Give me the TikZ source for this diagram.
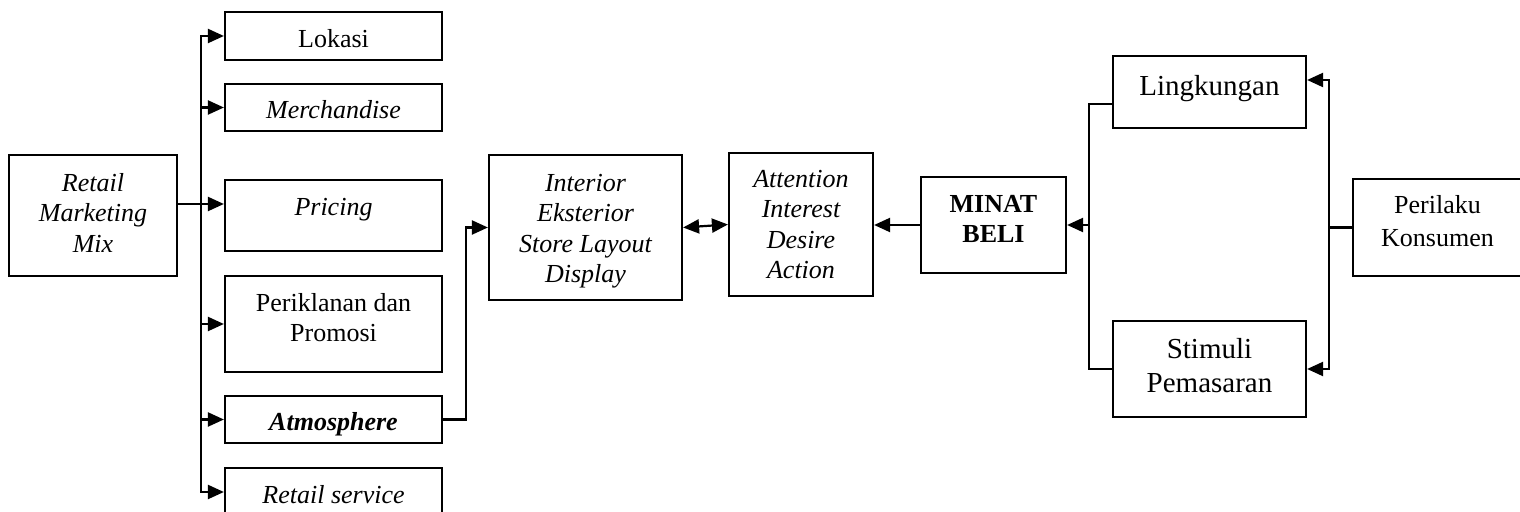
\documentclass[tikz,border=0pt]{standalone}
\usepackage{fontspec}
\setmainfont{Liberation Serif}
\usetikzlibrary{arrows.meta}
% box from corner (x1,y1) to (x2,y2), in picture units
\newcommand\mkbox[5]{\node[box, minimum width={(#4-#2)*0.5pt}, minimum height={(#5-#3)*0.5pt}] (#1) at ({(#2+#4)/2},{(#3+#5)/2}) {};}
% text block centred on x, with its first baseline at y
\newcommand\mktext[5]{\node[txt,#4] (#1) at (#2,{#3-22}) {\rule{0pt}{11pt}#5};}
\begin{document}
\begin{tikzpicture}[x=0.5pt,y=-0.5pt,
  box/.style={draw, line width=1.1pt, inner sep=0pt},
  txt/.style={inner sep=0pt, align=center, anchor=north},
  rm/.style={font=\fontsize{13}{15.25}\selectfont},
  it/.style={font=\fontsize{13}{15.25}\selectfont\itshape},
  bi/.style={font=\fontsize{13}{15.25}\selectfont\bfseries\itshape},
  bf/.style={font=\fontsize{13}{15}\selectfont\bfseries},
  big/.style={font=\fontsize{14.5}{17}\selectfont},
  link/.style={line width=1.1pt},
  arr/.style={line width=1.1pt, -{Triangle[length=8pt,width=7pt]}},
  darr/.style={line width=1.1pt, {Triangle[length=8pt,width=7pt]}-{Triangle[length=8pt,width=7pt]}},
]
\clip (0,0) rectangle (1520,512);

% boxes
\mkbox{rmm}{9}{155}{177}{276}
\mkbox{lok}{225}{12}{442}{60}
\mkbox{mer}{225}{84}{442}{131}
\mkbox{pri}{225}{180}{442}{251}
\mkbox{per}{225}{276}{442}{372}
\mkbox{atm}{225}{396}{442}{443}
\mkbox{ret}{225}{468}{442}{516}
\mkbox{int}{489}{155}{682}{300}
\mkbox{att}{729}{153}{873}{296}
\mkbox{min}{921}{177}{1066}{273}
\mkbox{lin}{1113}{56}{1306}{128}
\mkbox{sti}{1113}{321}{1306}{417}
\mkbox{kon}{1353}{179}{1522}{276}

% labels
\mktext{rmm-t}{93}{191}{it}{Retail\\Marketing\\Mix}
\mktext{lok-t}{333.5}{47}{rm}{Lokasi}
\mktext{mer-t}{333.5}{118}{it}{Merchandise}
\mktext{pri-t}{333.5}{215}{it}{Pricing}
\mktext{per-t}{333.5}{311}{rm}{Periklanan dan\\Promosi}
\mktext{atm-t}{333.5}{430}{bi}{Atmosphere}
\mktext{ret-t}{333.5}{503}{it}{Retail service}
\mktext{int-t}{585.5}{191}{it}{Interior\\Eksterior\\Store Layout\\Display}
\mktext{att-t}{801}{187}{it}{Attention\\Interest\\Desire\\Action}
\mktext{min-t}{993.5}{212}{bf}{MINAT\\BELI}
\mktext{lin-t}{1209.5}{95}{big}{Lingkungan}
\mktext{sti-t}{1209.5}{358}{big}{Stimuli\\Pemasaran}
\mktext{kon-t}{1437.5}{213}{font=\fontsize{13}{16.5}\selectfont}{Perilaku\\Konsumen}

% routing points
\coordinate (tx) at (201,0);
\coordinate (jp) at (0,204);
\coordinate (ax) at (466,0);
\coordinate (lx) at (1089,0);
\coordinate (jl) at (0,104);
\coordinate (rx) at (1329,0);
\coordinate (jr) at (0,80);

% retail marketing mix and its elements
\draw[arr] (rmm.east |- jp) -- (pri.west |- jp);
\draw[arr] (tx |- jp) |- (lok.west);
\draw[arr] (tx |- jp) |- (ret.west);
\draw[arr] (tx |- mer.west) -- (mer.west);
\draw[arr] (tx |- per.west) -- (per.west);
\draw[arr] (tx |- atm.west) -- (atm.west);

% atmosphere chain
\draw[arr] (atm.east) -- (atm.east -| ax) |- (int.west);
\draw[darr] (int.east) -- (att.west);
\draw[arr] (min.west) -- (att.east |- min.west);

% consumer behaviour side
\draw[link] (lin.west |- jl) -| (lx |- sti.west) -- (sti.west);
\draw[arr] (lx |- min.east) -- (min.east);
\draw[link] (kon.west) -- (rx |- kon.west);
\draw[arr] (rx |- kon.west) |- (lin.east |- jr);
\draw[arr] (rx |- kon.west) |- (sti.east);
\end{tikzpicture}
\end{document}
